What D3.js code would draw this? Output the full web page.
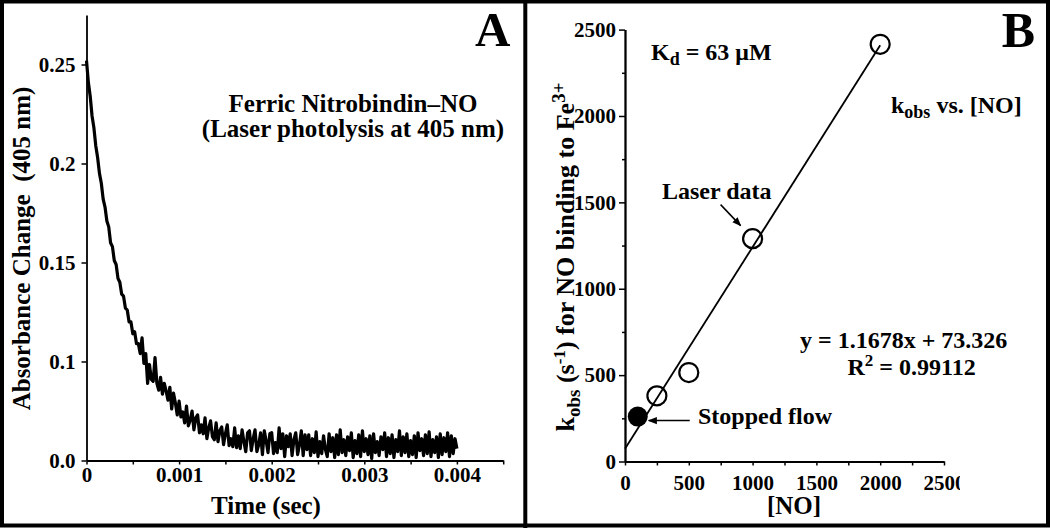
<!DOCTYPE html>
<html>
<head>
<meta charset="utf-8">
<script src="https://cdn.jsdelivr.net/npm/d3@7"></script>
<style>
  body { margin: 0; background: #fff; }
  svg text { font-family: "Liberation Serif", "Times New Roman", serif; font-weight: bold; fill: #000; }
</style>
</head>
<body>
<div id="chart"></div>
<script>

// ---- panel A : laser photolysis trace (one reading every 20 us) ----
var traceStep = 0.00002;
var traceAbs = [
  0.252, 0.241, 0.234, 0.224, 0.218, 0.209, 0.203, 0.195, 0.190, 0.182,
  0.178, 0.171, 0.168, 0.160, 0.158, 0.151, 0.149, 0.142, 0.140, 0.134,
  0.133, 0.127, 0.126, 0.120, 0.120, 0.114, 0.115, 0.109, 0.109, 0.104,
  0.112, 0.098, 0.104, 0.078, 0.097, 0.082, 0.080, 0.102, 0.078, 0.071,
  0.084, 0.067, 0.078, 0.070, 0.061, 0.074, 0.052, 0.068, 0.058, 0.046,
  0.060, 0.044, 0.049, 0.038, 0.055, 0.035, 0.041, 0.050, 0.031, 0.043,
  0.046, 0.028, 0.036, 0.027, 0.043, 0.022, 0.033, 0.040, 0.024, 0.021,
  0.038, 0.019, 0.030, 0.034, 0.016, 0.027, 0.036, 0.015, 0.022, 0.014,
  0.033, 0.013, 0.025, 0.012, 0.031, 0.019, 0.009, 0.028, 0.030, 0.010,
  0.022, 0.031, 0.009, 0.016, 0.028, 0.006, 0.030, 0.020, 0.008, 0.027,
  0.028, 0.007, 0.018, 0.008, 0.033, 0.012, 0.027, 0.004, 0.025, 0.014,
  0.027, 0.005, 0.021, 0.028, 0.006, 0.016, 0.030, 0.005, 0.026, 0.011,
  0.026, 0.005, 0.022, 0.008, 0.029, 0.004, 0.019, 0.007, 0.025, 0.011,
  0.004, 0.027, 0.009, 0.023, 0.003, 0.026, 0.006, 0.031, 0.008, 0.021,
  0.005, 0.024, 0.010, 0.028, 0.003, 0.020, 0.007, 0.026, 0.004, 0.030,
  0.009, 0.022, 0.006, 0.025, 0.002, 0.027, 0.008, 0.019, 0.005, 0.024,
  0.011, 0.028, 0.004, 0.023, 0.007, 0.026, 0.003, 0.021, 0.009, 0.030,
  0.005, 0.024, 0.008, 0.027, 0.004, 0.020, 0.006, 0.025, 0.003, 0.028,
  0.010, 0.022, 0.005, 0.026, 0.007, 0.029, 0.004, 0.021, 0.008, 0.024,
  0.003, 0.027, 0.006, 0.023, 0.009, 0.028, 0.004, 0.025, 0.007, 0.022,
  0.012
];
var absTicks = [0, 0.1, 0.15, 0.2, 0.25];
var absTickLabels = ["0.0", "0.1", "0.15", "0.2", "0.25"];
var timeTickLabels = ["0", "0.001", "0.002", "0.003", "0.004"];

// ---- panel B : kobs vs [NO] ----
var laserNO = [250, 500, 1000, 2000];
var laserKobs = [380, 515, 1290, 2415];
var stoppedNO = [100];
var stoppedKobs = [260];
var fitSlope = 1.1678;
var fitIntercept = 73.326;
var fitRange = [0, 2000];
var noTicks = [0, 500, 1000, 1500, 2000, 2500];
var kobsTicks = [0, 500, 1000, 1500, 2000, 2500];


const svg = d3.select("#chart").append("svg")
  .attr("width", 1050)
  .attr("height", 528);

const defs = svg.append("defs");
defs.append("marker")
  .attr("id", "arrow")
  .attr("viewBox", "0 0 10 10")
  .attr("refX", 9).attr("refY", 5)
  .attr("markerWidth", 6).attr("markerHeight", 6)
  .attr("orient", "auto")
  .append("path")
  .attr("d", "M0,1 L10,5 L0,9 z")
  .attr("fill", "#000");
defs.append("clipPath").attr("id", "clipB")
  .append("rect").attr("x", 528).attr("y", 0).attr("width", 432).attr("height", 528);

// frame + divider
svg.append("rect")
  .attr("x", 2).attr("y", 1.5).attr("width", 1046).attr("height", 524)
  .attr("fill", "none").attr("stroke", "#000").attr("stroke-width", 4);
svg.append("line")
  .attr("x1", 525.3).attr("x2", 525.3).attr("y1", 0).attr("y2", 528)
  .attr("stroke", "#000").attr("stroke-width", 4);

function styleAxis(g, size) {
  g.select(".domain").attr("stroke-width", 1.8);
  g.selectAll(".tick line").attr("stroke-width", 1.5);
  g.selectAll("text")
    .attr("font-family", "Liberation Serif")
    .attr("font-weight", "bold")
    .style("font-size", size + "px");
}

// ================= PANEL A =================
const xA = d3.scaleLinear().domain([0, 0.0045]).range([86.5, 503.2]);
const yA = d3.scaleLinear().domain([0, 0.1, 0.275]).range([460.5, 361.5, 15]);

const xAxisA = d3.axisBottom(xA)
  .tickValues(d3.range(10).map(i => i * 0.0005))
  .tickSize(4).tickSizeOuter(0).tickPadding(3)
  .tickFormat((d, i) => (i % 2 == 0 && i / 2 < timeTickLabels.length) ? timeTickLabels[i / 2] : "");
const yAxisA = d3.axisLeft(yA)
  .tickValues(absTicks)
  .tickSize(5).tickSizeOuter(0).tickPadding(6)
  .tickFormat((d, i) => absTickLabels[i]);

svg.append("g").attr("transform", `translate(0,${yA(0)})`).call(xAxisA).call(g => styleAxis(g, 21));
svg.append("g").attr("transform", `translate(${xA(0)},0)`).call(yAxisA).call(g => styleAxis(g, 21));

const traceLine = d3.line()
  .x((d, i) => xA(i * traceStep))
  .y(d => yA(d));

svg.append("path")
  .datum(traceAbs)
  .attr("d", traceLine)
  .attr("fill", "none")
  .attr("stroke", "#000")
  .attr("stroke-width", 3.2)
  .attr("stroke-linejoin", "round");

svg.append("text").attr("x", 510.5).attr("y", 45.6)
  .attr("text-anchor", "end").style("font-size", "49px").text("A");
svg.append("text").attr("x", 353).attr("y", 112)
  .attr("text-anchor", "middle").style("font-size", "25px").text("Ferric Nitrobindin\u2013NO");
svg.append("text").attr("x", 353).attr("y", 137)
  .attr("text-anchor", "middle").style("font-size", "25px").text("(Laser photolysis at 405 nm)");
svg.append("text").attr("x", 266).attr("y", 514)
  .attr("text-anchor", "middle").style("font-size", "25px").text("Time (sec)");
svg.append("text")
  .attr("transform", "translate(30,248.5) rotate(-90)")
  .attr("text-anchor", "middle").style("font-size", "25px")
  .attr("xml:space", "preserve")
  .text("Absorbance Change  (405 nm)");

// ================= PANEL B =================
const xB = d3.scaleLinear().domain([0, 2500]).range([625, 944]);
const yB = d3.scaleLinear().domain([0, 2500]).range([461.5, 29.6]);

const gB = svg.append("g").attr("clip-path", "url(#clipB)");

gB.append("g").attr("transform", `translate(0,${yB(0)})`)
  .call(d3.axisBottom(xB).tickValues(d3.range(0, 2501, 250))
    .tickSize(4).tickSizeOuter(0).tickPadding(10)
    .tickFormat(d => noTicks.includes(d) ? String(d) : ""))
  .call(g => styleAxis(g, 21));

gB.append("g").attr("transform", `translate(${xB(0)},0)`)
  .call(d3.axisLeft(yB).tickValues(d3.range(250, 2500, 500))
    .tickSize(3).tickSizeOuter(0).tickFormat(""))
  .call(g => styleAxis(g, 21));
gB.append("g").attr("transform", `translate(${xB(0)},0)`)
  .call(d3.axisLeft(yB).tickValues(kobsTicks)
    .tickSize(6).tickSizeOuter(0).tickPadding(3)
    .tickFormat(d => String(d)))
  .call(g => styleAxis(g, 21));

// fit line
gB.append("line")
  .attr("x1", xB(fitRange[0])).attr("y1", yB(fitSlope * fitRange[0] + fitIntercept))
  .attr("x2", xB(fitRange[1])).attr("y2", yB(fitSlope * fitRange[1] + fitIntercept))
  .attr("stroke", "#000").attr("stroke-width", 1.8);

gB.selectAll("circle.laser")
  .data(laserNO)
  .enter().append("circle")
  .attr("class", "laser")
  .attr("cx", d => xB(d))
  .attr("cy", (d, i) => yB(laserKobs[i]))
  .attr("r", 9.5)
  .attr("fill", "none")
  .attr("stroke", "#000")
  .attr("stroke-width", 2.2);

gB.selectAll("circle.stopped")
  .data(stoppedNO)
  .enter().append("circle")
  .attr("class", "stopped")
  .attr("cx", d => xB(d))
  .attr("cy", (d, i) => yB(stoppedKobs[i]))
  .attr("r", 10)
  .attr("fill", "#000");

// annotations
const lx = xB(laserNO[2]), ly = yB(laserKobs[2]);
gB.append("line")
  .attr("x1", lx - 32).attr("y1", ly - 34).attr("x2", lx - 12).attr("y2", ly - 13)
  .attr("stroke", "#000").attr("stroke-width", 1.5).attr("marker-end", "url(#arrow)");
const sx = xB(stoppedNO[0]), sy = yB(stoppedKobs[0]);
gB.append("line")
  .attr("x1", sx + 52).attr("y1", sy + 4).attr("x2", sx + 11).attr("y2", sy + 4)
  .attr("stroke", "#000").attr("stroke-width", 1.5).attr("marker-end", "url(#arrow)");

svg.append("text").attr("x", 1035).attr("y", 47)
  .attr("text-anchor", "end").style("font-size", "50px").text("B");

const kd = svg.append("text").attr("x", 651).attr("y", 60).style("font-size", "24px");
kd.append("tspan").text("K");
kd.append("tspan").attr("dy", 5).style("font-size", "18px").text("d");
kd.append("tspan").attr("dy", -5).text(" = 63 \u03bcM");

const kv = svg.append("text").attr("x", 891).attr("y", 113).style("font-size", "24px");
kv.append("tspan").text("k");
kv.append("tspan").attr("dy", 5).style("font-size", "18px").text("obs");
kv.append("tspan").attr("dy", -5).text(" vs. [NO]");

svg.append("text").attr("x", 662).attr("y", 199).style("font-size", "24px").text("Laser data");
svg.append("text").attr("x", 800).attr("y", 347.5).style("font-size", "24px").text("y = 1.1678x + 73.326");

const r2 = svg.append("text").attr("x", 847.5).attr("y", 375).style("font-size", "24px");
r2.append("tspan").text("R");
r2.append("tspan").attr("dy", -9).style("font-size", "17px").text("2");
r2.append("tspan").attr("dy", 9).text(" = 0.99112");

svg.append("text").attr("x", 698).attr("y", 423.5).style("font-size", "24px").text("Stopped flow");
svg.append("text").attr("x", 794).attr("y", 514)
  .attr("text-anchor", "middle").style("font-size", "25px").text("[NO]");

const yl = svg.append("text")
  .attr("transform", "translate(574,257) rotate(-90)")
  .attr("text-anchor", "middle").style("font-size", "26px");
yl.append("tspan").text("k");
yl.append("tspan").attr("dy", 6).style("font-size", "19px").text("obs");
yl.append("tspan").attr("dy", -6).text(" (s");
yl.append("tspan").attr("dy", -9).style("font-size", "17px").text("-1");
yl.append("tspan").attr("dy", 9).text(") for NO binding to Fe");
yl.append("tspan").attr("dy", -9).style("font-size", "19px").text("3+");

</script>
</body>
</html>
